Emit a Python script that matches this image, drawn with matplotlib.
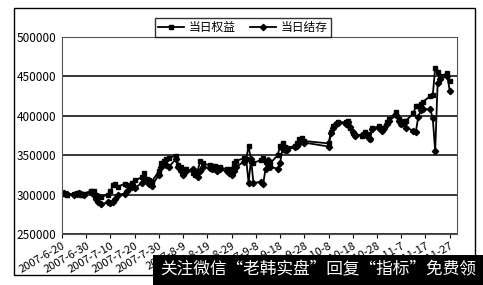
import pandas as pd
import matplotlib
matplotlib.use('Agg')
import matplotlib.pyplot as plt
from matplotlib.patches import Rectangle

plt.rcParams['font.family'] = ['Noto Sans CJK SC', 'DejaVu Sans']

# trading days, 2007
dates = ['6-20', '6-21', '6-22', '6-25', '6-26', '6-27', '6-28', '6-29',
         '7-2', '7-3', '7-4', '7-5', '7-6', '7-9', '7-10', '7-11', '7-12', '7-13',
         '7-16', '7-17', '7-18', '7-19', '7-20', '7-23', '7-24', '7-25', '7-26', '7-27',
         '7-30', '7-31',
         '8-1', '8-2', '8-3', '8-6', '8-7', '8-8', '8-9', '8-10', '8-13', '8-14', '8-15',
         '8-16', '8-17', '8-20', '8-21', '8-22', '8-23', '8-24', '8-27', '8-28', '8-29',
         '8-30', '8-31',
         '9-3', '9-4', '9-5', '9-6', '9-7', '9-10', '9-11', '9-12', '9-13', '9-14',
         '9-17', '9-18', '9-19', '9-20', '9-21', '9-24', '9-25', '9-26', '9-27', '9-28',
         '10-8', '10-9', '10-10', '10-11', '10-12', '10-15', '10-16', '10-17', '10-18',
         '10-19', '10-22', '10-23', '10-24', '10-25', '10-26', '10-29', '10-30', '10-31',
         '11-1', '11-2', '11-5', '11-6', '11-7', '11-8', '11-9', '11-12', '11-13', '11-14',
         '11-15', '11-16', '11-19', '11-20', '11-21', '11-22', '11-23', '11-26', '11-27']

# 当日权益 (thousands)
equity = [302, 301, 300, 301, 302, 302, 300, 301,
          305, 304, 300, 298, 297, 300, 304, 312, 313, 310,
          314, 312, 308, 315, 318, 322, 328, 320, 318, 316,
          330, 340,
          343, 345, 347, 349, 338, 335, 330, 333, 328, 325, 330,
          343, 340, 337, 336, 336, 334, 335, 332, 330, 333,
          340, 343,
          346, 345, 362, 343, 340, 344, 347, 342, 336, 340,
          350, 362, 366, 360, 359, 362, 365, 370, 372, 368,
          365, 380, 387, 390, 392, 392, 394, 385, 378,
          376, 375, 380, 377, 371, 384, 387, 383, 385,
          392, 396, 405, 396, 390, 393, 394, 403, 412, 413,
          415, 418, 425, 426, 461, 456, 450, 454, 444]

# 当日结存 (thousands)
balance = [302, 302, 301, 300, 301, 302, 301, 300,
           303, 300, 294, 291, 288, 290, 289, 290, 295, 300,
           301, 305, 310, 313, 308, 315, 320, 318, 314, 311,
           325, 335,
           340, 338, 335, 345, 335, 330, 325, 330, 332, 326, 322,
           330, 335, 334, 333, 332, 330, 332, 330, 327, 325,
           330, 335,
           342, 345, 315, 345, 315, 316, 313, 333, 344, 335,
           333, 340, 358, 356, 357, 360, 362, 366, 369, 366,
           361, 378, 385, 389, 391, 390, 392, 386, 379,
           375, 376, 378, 375, 370, 383, 385, 381, 384,
           390, 394, 401, 394, 389, 391, 385, 381, 380, 398,
           407, 409, 408, 397, 355, 441, 447, 450, 432]

yticks = [250000, 300000, 350000, 400000, 450000, 500000]

x = pd.to_datetime(['2007-' + d for d in dates])
tick_dates = pd.date_range('2007-06-20', '2007-11-27', freq='10D')

fig = plt.figure(figsize=(4.83, 2.85), dpi=100)
ax = fig.add_axes([62 / 483, 1 - 234 / 285, 395 / 483, 197 / 285])

ax.plot(x, [v * 1000 for v in equity], color='black', lw=1.3,
        marker='s', markersize=3.2, label='当日权益')
ax.plot(x, [v * 1000 for v in balance], color='black', lw=1.3,
        marker='D', markersize=3.2, label='当日结存')

ax.set_ylim(250000, 500000)
ax.set_yticks(yticks)
ax.yaxis.grid(True, color='black', lw=1.1)
ax.tick_params(axis='y', length=0, labelsize=8.5, pad=4)

ax.set_xlim(pd.Timestamp('2007-06-20'), pd.Timestamp('2007-11-30'))
ax.set_xticks(tick_dates)
ax.set_xticklabels([f'{d.year}-{d.month}-{d.day}' for d in tick_dates],
                   rotation=30, ha='right', rotation_mode='anchor', fontsize=8)
ax.tick_params(axis='x', length=3, pad=1.5)

for s in ax.spines.values():
    s.set_linewidth(0.8)
    s.set_color('#555555')

fig.legend(loc='upper center', bbox_to_anchor=(243 / 483, 1 - 12 / 285), ncol=2,
           fontsize=8.5, frameon=True, fancybox=False, edgecolor='black',
           handlelength=2.2, columnspacing=1.2, borderpad=0.25, handletextpad=0.4)

# outer chart border
fig.patches.append(Rectangle((14 / 483, 1 - 275 / 285), 461 / 483, 267 / 285,
                             transform=fig.transFigure, fill=False,
                             ec='black', lw=1))

# watermark strip
fig.patches.append(Rectangle((153 / 483, 0), 330 / 483, 30 / 285,
                             transform=fig.transFigure, fc='black', ec='none'))
fig.text(318 / 483, 15 / 285, '关注微信“老韩实盘”回复“指标”免费领',
         color='white', fontsize=12, ha='center', va='center')

fig.savefig('out.png', dpi=100)
